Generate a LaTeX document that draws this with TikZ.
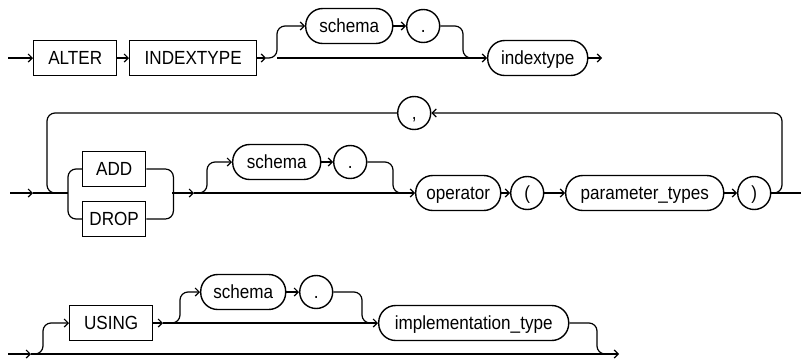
\documentclass[tikz,border=0pt]{standalone}
\usepackage{fontspec}
\setmainfont{Liberation Sans}[FakeStretch=0.9]
\usetikzlibrary{arrows.meta}
\tikzset{
  kw/.style={draw, line width=1.4pt, anchor=west, minimum height=35pt, inner sep=0pt,
    text height=13pt, text depth=0pt, font=\fontsize{19}{22}\selectfont},
  var/.style={kw, rounded corners=17pt},
  sym/.style={draw, circle, line width=1.4pt, anchor=west, minimum size=33pt, inner sep=0pt,
    text height=13pt, text depth=0pt, font=\fontsize{19}{22}\selectfont},
}
\begin{document}
\begin{tikzpicture}[x=1pt, y=-1pt, line width=1.2pt, >={Straight Barb[length=4pt,width=8pt]}]
\useasboundingbox (0,0) rectangle (801,359);
% first line
\coordinate (s1) at (8,58);
\node[kw, minimum width=83pt] (alter) at (33,58) {ALTER};
\node[kw, minimum width=127pt] (kwindextype) at (129,58) {INDEXTYPE};
\coordinate (a1) at (266,58);
\coordinate (b1) at (277,58);
\node[var, minimum width=87pt] (schemaA) at (305,26) {schema};
\node[sym] (dotA) at (406,26) {.};
\coordinate (j1) at (463,58);
\node[var, minimum width=100pt] (indextype) at (487,58) {indextype};
\coordinate (e1) at (602,58);
\draw[->] (s1) -- (alter.west);
\draw[->] (alter.east) -- (kwindextype.west);
\draw[->] (kwindextype.east) -- (a1);
\draw[->, rounded corners=8pt] (a1) -- (b1) |- (schemaA.west);
\draw[->] (schemaA.east) -- (dotA.west);
\draw[rounded corners=8pt] (dotA.east) -| (j1) -- ++(10,0);
\draw[->] (b1) -- (indextype.west);
\draw[->] (indextype.east) -- (e1);
% second line
\coordinate (s2) at (10,193);
\coordinate (a2) at (33,193);
\coordinate (l2) at (47,193);
\coordinate (c2l) at (68,193);
\node[kw, minimum width=63pt] (add) at (82,169) {ADD};
\node[kw, minimum width=63pt] (drop) at (82,219) {DROP};
\coordinate (c2r) at (172,193);
\coordinate (a2b) at (194,193);
\coordinate (b2) at (207,193);
\node[var, minimum width=88pt] (schemaB) at (232,162) {schema};
\node[sym] (dotB) at (333,162) {.};
\coordinate (j2) at (393,193);
\node[var, minimum width=85pt] (operator) at (415,193) {operator};
\node[sym] (lpar) at (510,193) {(};
\node[var, minimum width=158pt] (ptypes) at (565,193) {parameter\_types};
\node[sym] (rpar) at (737,193) {)};
\coordinate (r2) at (782,193);
\coordinate (e2) at (801,193);
\node[sym] (comma) at (397,113) {,};
\draw[->] (s2) -- (a2);
\draw (a2) -- (c2l);
\draw[rounded corners=8pt] (add.west) -- ++(-14,0) |- (drop.west);
\draw[rounded corners=8pt] (add.east) -- ++(27,0) |- (drop.east);
\draw[->] (c2r) -- (a2b);
\draw[->, rounded corners=8pt] (a2b) -- (b2) |- (schemaB.west);
\draw[->] (schemaB.east) -- (dotB.west);
\draw[rounded corners=8pt] (dotB.east) -| (j2) -- ++(10,0);
\draw[->] (a2b) -- (operator.west);
\draw[->] (operator.east) -- (lpar.west);
\draw[->] (lpar.east) -- (ptypes.west);
\draw[->] (ptypes.east) -- (rpar.west);
\draw (rpar.east) -- (e2);
\draw[->, rounded corners=8pt] (rpar.east) -- (r2) |- (comma.east);
\draw[rounded corners=8pt] (comma.west) -| (l2) -- ++(12,0);
% third line
\coordinate (s3) at (8,354);
\coordinate (a3) at (31,354);
\coordinate (b3) at (43,354);
\node[kw, minimum width=83pt] (using) at (69,323) {USING};
\coordinate (a3b) at (163,323);
\coordinate (b3b) at (180,323);
\node[var, minimum width=85pt] (schemaC) at (200,292) {schema};
\node[sym] (dotC) at (299,292) {.};
\coordinate (j3) at (362,323);
\node[var, minimum width=190pt] (impl) at (378,323) {implementation\_type};
\coordinate (j3b) at (597,354);
\coordinate (e3) at (619,354);
\draw[->] (s3) -- (a3);
\draw[->] (a3) -- (e3);
\draw[->, rounded corners=8pt] (a3) -- (b3) |- (using.west);
\draw[->] (using.east) -- (a3b);
\draw[->, rounded corners=8pt] (a3b) -- (b3b) |- (schemaC.west);
\draw[->] (schemaC.east) -- (dotC.west);
\draw[rounded corners=8pt] (dotC.east) -| (j3) -- ++(10,0);
\draw[->] (a3b) -- (impl.west);
\draw[rounded corners=8pt] (impl.east) -| (j3b) -- ++(10,0);
\end{tikzpicture}
\end{document}
